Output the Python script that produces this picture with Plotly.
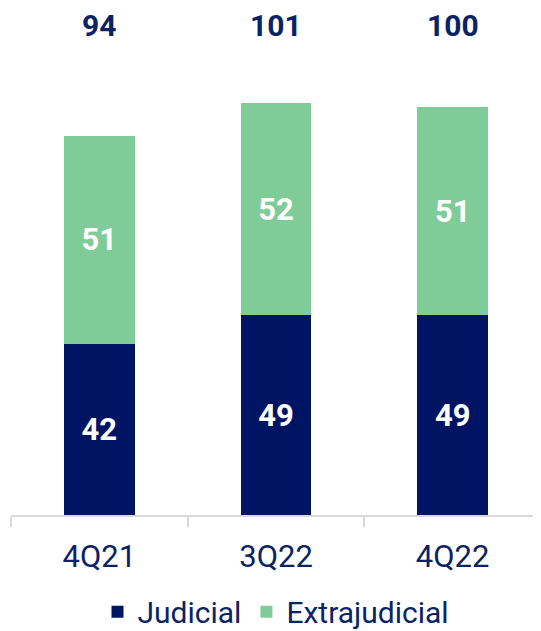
import plotly.graph_objects as go

categories = ["4Q21", "3Q22", "4Q22"]
judicial = [42, 49, 49]
extrajudicial = [51, 52, 51]
totals = [94, 101, 100]

navy = "#001464"
green = "#80CC99"
text_navy = "#0B2263"

fig = go.Figure()
fig.add_trace(go.Bar(
    x=categories, y=judicial, name="Judicial", marker_color=navy,
    text=judicial, textposition="inside", insidetextanchor="middle",
    textfont=dict(family="Roboto", size=31, color="white", weight="bold"),
    marker_line_width=0,
))
fig.add_trace(go.Bar(
    x=categories, y=extrajudicial, name="Extrajudicial", marker_color=green,
    text=extrajudicial, textposition="inside", insidetextanchor="middle",
    textfont=dict(family="Roboto", size=31, color="white", weight="bold"),
    marker_line_width=0,
))

for c, t in zip(categories, totals):
    fig.add_annotation(x=c, y=120, text=f"<b>{t}</b>", showarrow=False,
                       font=dict(family="Roboto", size=30, color=text_navy),
                       yanchor="middle")

fig.update_layout(
    barmode="stack",
    bargap=0.6,
    width=533, height=623,
    margin=dict(l=3, r=0, t=0, b=116, autoexpand=False),
    plot_bgcolor="white", paper_bgcolor="white",
    font=dict(family="Roboto", color=text_navy),
    uniformtext=dict(minsize=10, mode="show"),
    showlegend=True,
    legend=dict(orientation="h", x=0.5, xanchor="center", yref="container",
                y=0.031, yanchor="middle",
                font=dict(family="Roboto", size=30, color=text_navy),
                traceorder="normal", itemwidth=30),
    xaxis=dict(showline=True, linecolor="#D9D9D9", linewidth=2,
               ticks="outside", tickson="boundaries", ticklen=10, tickcolor="#D9D9D9",
               tickwidth=2, tickfont=dict(family="Roboto", size=31, color=text_navy),
               ticklabelstandoff=13, fixedrange=True, automargin=False),
    yaxis=dict(range=[0, 124.3], visible=False, showgrid=False, fixedrange=True,
               automargin=False),
)

fig.write_html("out.html")
